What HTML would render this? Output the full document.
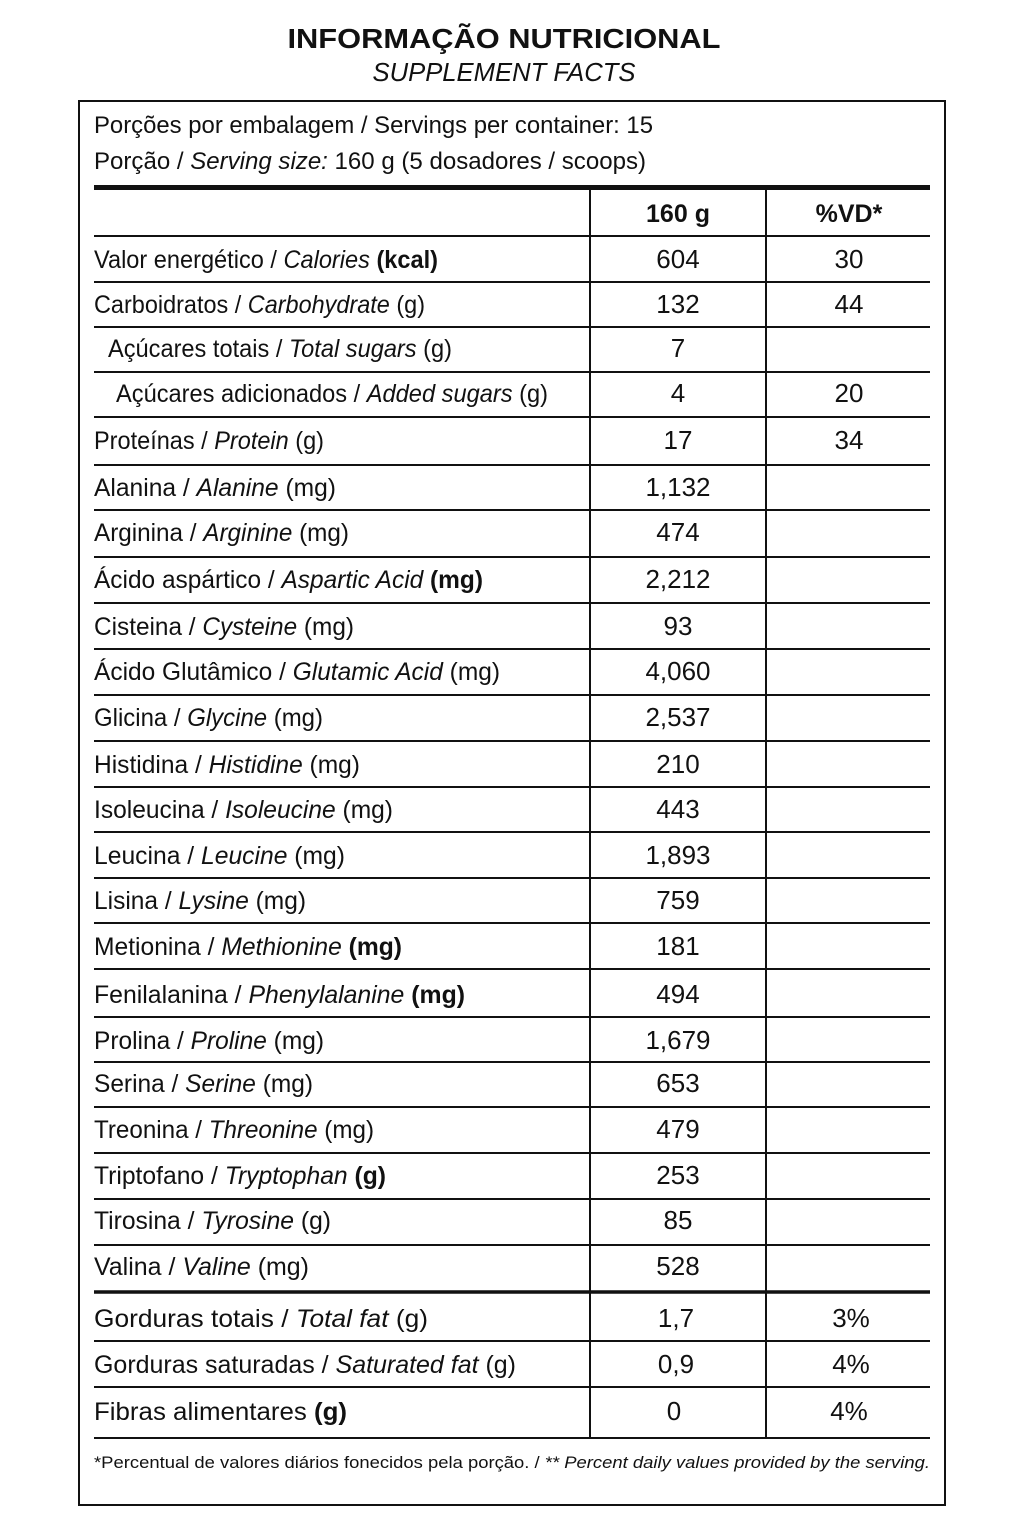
<!DOCTYPE html>
<html><head><meta charset="utf-8"><style>
html,body{margin:0;padding:0;background:#fff;}
svg{display:block;}
text{font-family:"Liberation Sans",sans-serif;fill:#111;}
.i{font-style:italic;}
.b{font-weight:bold;}
</style></head><body>
<svg width="1024" height="1536" viewBox="0 0 1024 1536" xmlns="http://www.w3.org/2000/svg">
<text x="504" y="48" text-anchor="middle" font-size="28" class="b" textLength="433" lengthAdjust="spacingAndGlyphs">INFORMAÇÃO NUTRICIONAL</text>
<text x="504" y="81" text-anchor="middle" font-size="26" class="i" textLength="263" lengthAdjust="spacingAndGlyphs">SUPPLEMENT FACTS</text>
<rect x="79" y="101" width="866" height="1404" fill="none" stroke="#111" stroke-width="2"/>
<g font-size="24">
<text x="94" y="133" textLength="559" lengthAdjust="spacingAndGlyphs">Porções por embalagem / Servings per container: 15</text>
<text x="94" y="169" textLength="552" lengthAdjust="spacingAndGlyphs">Porção / <tspan class="i">Serving size:</tspan> 160 g (5 dosadores / scoops)</text>
</g>
<rect x="94" y="185" width="836" height="5" fill="#111"/>
<g stroke="#111" stroke-width="2">
<line x1="590" y1="188" x2="590" y2="1438"/>
<line x1="766" y1="188" x2="766" y2="1438"/>
<line x1="94" y1="236" x2="930" y2="236"/>
<line x1="94" y1="282" x2="930" y2="282"/>
<line x1="94" y1="327" x2="930" y2="327"/>
<line x1="94" y1="372" x2="930" y2="372"/>
<line x1="94" y1="417" x2="930" y2="417"/>
<line x1="94" y1="465" x2="930" y2="465"/>
<line x1="94" y1="510" x2="930" y2="510"/>
<line x1="94" y1="557" x2="930" y2="557"/>
<line x1="94" y1="603" x2="930" y2="603"/>
<line x1="94" y1="649" x2="930" y2="649"/>
<line x1="94" y1="695" x2="930" y2="695"/>
<line x1="94" y1="741" x2="930" y2="741"/>
<line x1="94" y1="787" x2="930" y2="787"/>
<line x1="94" y1="832" x2="930" y2="832"/>
<line x1="94" y1="878" x2="930" y2="878"/>
<line x1="94" y1="923" x2="930" y2="923"/>
<line x1="94" y1="969" x2="930" y2="969"/>
<line x1="94" y1="1017" x2="930" y2="1017"/>
<line x1="94" y1="1062" x2="930" y2="1062"/>
<line x1="94" y1="1107" x2="930" y2="1107"/>
<line x1="94" y1="1153" x2="930" y2="1153"/>
<line x1="94" y1="1199" x2="930" y2="1199"/>
<line x1="94" y1="1245" x2="930" y2="1245"/>
<line x1="94" y1="1292" x2="930" y2="1292" stroke-width="3.5"/>
<line x1="94" y1="1341" x2="930" y2="1341"/>
<line x1="94" y1="1387" x2="930" y2="1387"/>
<line x1="94" y1="1438" x2="930" y2="1438"/>
</g>
<g font-size="25">
<text x="678" y="222" text-anchor="middle" class="b">160 g</text>
<text x="849" y="222" text-anchor="middle" class="b">%VD*</text>
</g>
<g font-size="25">
<text x="94" y="268" textLength="344" lengthAdjust="spacingAndGlyphs">Valor energético / <tspan class="i">Calories</tspan> <tspan class="b">(kcal)</tspan></text>
<text x="94" y="313" textLength="331" lengthAdjust="spacingAndGlyphs">Carboidratos / <tspan class="i">Carbohydrate</tspan> (g)</text>
<text x="108" y="357" textLength="344" lengthAdjust="spacingAndGlyphs">Açúcares totais / <tspan class="i">Total sugars</tspan> (g)</text>
<text x="116" y="402" textLength="432" lengthAdjust="spacingAndGlyphs">Açúcares adicionados / <tspan class="i">Added sugars</tspan> (g)</text>
<text x="94" y="449" textLength="230" lengthAdjust="spacingAndGlyphs">Proteínas / <tspan class="i">Protein</tspan> (g)</text>
<text x="94" y="496" textLength="242" lengthAdjust="spacingAndGlyphs">Alanina / <tspan class="i">Alanine</tspan> (mg)</text>
<text x="94" y="541" textLength="255" lengthAdjust="spacingAndGlyphs">Arginina / <tspan class="i">Arginine</tspan> (mg)</text>
<text x="94" y="588" textLength="389" lengthAdjust="spacingAndGlyphs">Ácido aspártico / <tspan class="i">Aspartic Acid</tspan> <tspan class="b">(mg)</tspan></text>
<text x="94" y="635" textLength="260" lengthAdjust="spacingAndGlyphs">Cisteina / <tspan class="i">Cysteine</tspan> (mg)</text>
<text x="94" y="680" textLength="406" lengthAdjust="spacingAndGlyphs">Ácido Glutâmico / <tspan class="i">Glutamic Acid</tspan> (mg)</text>
<text x="94" y="726" textLength="229" lengthAdjust="spacingAndGlyphs">Glicina / <tspan class="i">Glycine</tspan> (mg)</text>
<text x="94" y="773" textLength="266" lengthAdjust="spacingAndGlyphs">Histidina / <tspan class="i">Histidine</tspan> (mg)</text>
<text x="94" y="818" textLength="299" lengthAdjust="spacingAndGlyphs">Isoleucina / <tspan class="i">Isoleucine</tspan> (mg)</text>
<text x="94" y="864" textLength="251" lengthAdjust="spacingAndGlyphs">Leucina / <tspan class="i">Leucine</tspan> (mg)</text>
<text x="94" y="909" textLength="212" lengthAdjust="spacingAndGlyphs">Lisina / <tspan class="i">Lysine</tspan> (mg)</text>
<text x="94" y="955" textLength="308" lengthAdjust="spacingAndGlyphs">Metionina / <tspan class="i">Methionine</tspan> <tspan class="b">(mg)</tspan></text>
<text x="94" y="1003" textLength="371" lengthAdjust="spacingAndGlyphs">Fenilalanina / <tspan class="i">Phenylalanine</tspan> <tspan class="b">(mg)</tspan></text>
<text x="94" y="1049" textLength="230" lengthAdjust="spacingAndGlyphs">Prolina / <tspan class="i">Proline</tspan> (mg)</text>
<text x="94" y="1092" textLength="219" lengthAdjust="spacingAndGlyphs">Serina / <tspan class="i">Serine</tspan> (mg)</text>
<text x="94" y="1138" textLength="280" lengthAdjust="spacingAndGlyphs">Treonina / <tspan class="i">Threonine</tspan> (mg)</text>
<text x="94" y="1184" textLength="292" lengthAdjust="spacingAndGlyphs">Triptofano / <tspan class="i">Tryptophan</tspan> <tspan class="b">(g)</tspan></text>
<text x="94" y="1229" textLength="237" lengthAdjust="spacingAndGlyphs">Tirosina / <tspan class="i">Tyrosine</tspan> (g)</text>
<text x="94" y="1275" textLength="215" lengthAdjust="spacingAndGlyphs">Valina / <tspan class="i">Valine</tspan> (mg)</text>
<text x="94" y="1327" textLength="334" lengthAdjust="spacingAndGlyphs">Gorduras totais / <tspan class="i">Total fat</tspan> (g)</text>
<text x="94" y="1373" textLength="422" lengthAdjust="spacingAndGlyphs">Gorduras saturadas / <tspan class="i">Saturated fat</tspan> (g)</text>
<text x="94" y="1420" textLength="253" lengthAdjust="spacingAndGlyphs">Fibras alimentares <tspan class="b">(g)</tspan></text>
</g>
<g font-size="26" text-anchor="middle">
<text x="678" y="268">604</text><text x="849" y="268">30</text>
<text x="678" y="313">132</text><text x="849" y="313">44</text>
<text x="678" y="357">7</text>
<text x="678" y="402">4</text><text x="849" y="402">20</text>
<text x="678" y="449">17</text><text x="849" y="449">34</text>
<text x="678" y="496">1,132</text>
<text x="678" y="541">474</text>
<text x="678" y="588">2,212</text>
<text x="678" y="635">93</text>
<text x="678" y="680">4,060</text>
<text x="678" y="726">2,537</text>
<text x="678" y="773">210</text>
<text x="678" y="818">443</text>
<text x="678" y="864">1,893</text>
<text x="678" y="909">759</text>
<text x="678" y="955">181</text>
<text x="678" y="1003">494</text>
<text x="678" y="1049">1,679</text>
<text x="678" y="1092">653</text>
<text x="678" y="1138">479</text>
<text x="678" y="1184">253</text>
<text x="678" y="1229">85</text>
<text x="678" y="1275">528</text>
<text x="676" y="1327">1,7</text><text x="851" y="1327">3%</text>
<text x="676" y="1373">0,9</text><text x="851" y="1373">4%</text>
<text x="674" y="1420">0</text><text x="849" y="1420">4%</text>
</g>
<text x="94" y="1468" font-size="17" textLength="836" lengthAdjust="spacingAndGlyphs">*Percentual de valores diários fonecidos pela porção. / <tspan class="i">** Percent daily values provided by the serving.</tspan></text>
</svg>
</body></html>
